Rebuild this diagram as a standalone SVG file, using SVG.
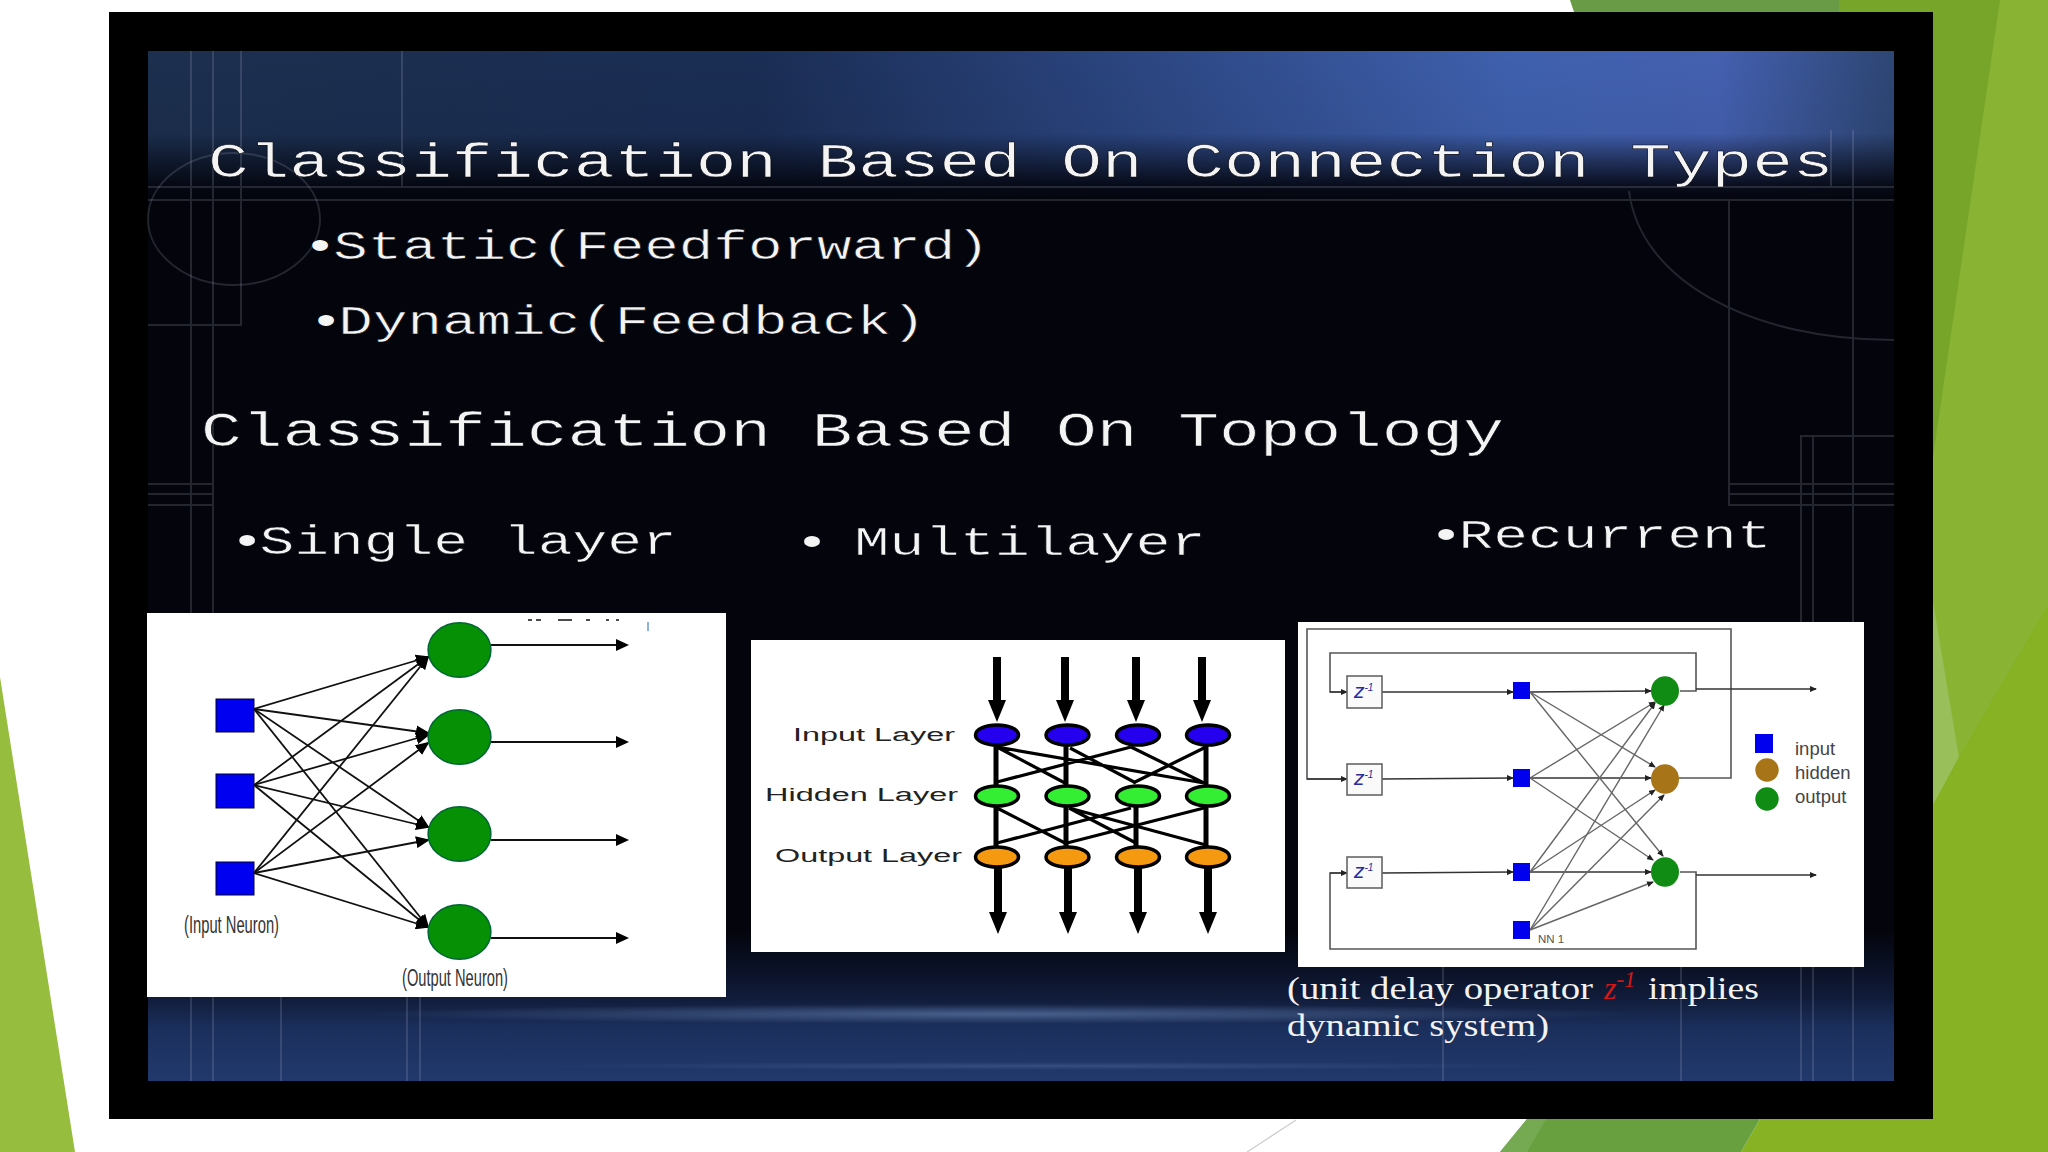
<svg xmlns="http://www.w3.org/2000/svg" width="2048" height="1152" viewBox="0 0 2048 1152">
<style>
.m{font-family:"Liberation Mono",monospace;fill:#f4f4f4;stroke:#05060f;stroke-width:.55}
.bu{stroke:none;font-family:"Liberation Sans",sans-serif}
.h{font-size:48px}.s{font-size:40px}
.f{fill:none;stroke:#b9bcd0;stroke-opacity:.18;stroke-width:2}
.l1{stroke:#111;stroke-width:1.8;fill:none;marker-end:url(#a1)}
.o1{stroke:#111;stroke-width:1.8;fill:none;marker-end:url(#a1b)}
.v2{stroke:#000;stroke-width:5;fill:none}
.d2{stroke:#000;stroke-width:3.2;fill:none}
.b2{stroke:#000;stroke-width:8;fill:none;marker-end:url(#a2)}
.g3{stroke:#555;stroke-width:1.6;fill:none}
.t3{stroke:#333;stroke-width:1.4;fill:none;marker-end:url(#a3)}
.d3{stroke:#666;stroke-width:1.4;fill:none;marker-end:url(#a3)}
.sq{fill:#0000f0;stroke:#003;stroke-width:1}
.gc{fill:#069006;stroke:#063;stroke-width:1.5}
.sq3{fill:#0000ee}
.gc3{fill:#108c14}
.nl{font-family:"Liberation Sans Narrow","Liberation Sans",sans-serif;font-size:23px;fill:#333}
.ll{font-family:"Liberation Sans",sans-serif;font-size:18px;fill:#222}
.lg{font-family:"Liberation Sans",sans-serif;font-size:18.5px;fill:#444}
.zb{fill:#fafafa;stroke:#666;stroke-width:1.6}
.zt{font-family:"Liberation Sans",sans-serif;font-style:italic;font-size:21px;fill:#2b2b9c}
.zs{font-size:10px}
.cap{font-family:"Liberation Serif",serif;font-size:32px;fill:#f2f2f2}
</style>
<defs>
<marker id="a1" markerUnits="userSpaceOnUse" markerWidth="14" markerHeight="12" refX="12" refY="6" orient="auto"><path d="M0,0L14,6L0,12z" fill="#000"/></marker>
<marker id="a1b" markerUnits="userSpaceOnUse" markerWidth="13" markerHeight="12" refX="11" refY="6" orient="auto"><path d="M0,0L13,6L0,12z" fill="#000"/></marker>
<marker id="a2" markerUnits="userSpaceOnUse" markerWidth="22" markerHeight="18" refX="0" refY="9" orient="auto"><path d="M0,0L22,9L0,18z" fill="#000"/></marker>
<marker id="a3" markerUnits="userSpaceOnUse" markerWidth="7" markerHeight="6" refX="6" refY="3" orient="auto"><path d="M0,0L7,3L0,6z" fill="#222"/></marker>
<linearGradient id="hz" x1="0" x2="1" y1="0" y2="0"><stop offset="0" stop-color="#1c2f4e"/><stop offset=".35" stop-color="#1a2d54"/><stop offset=".55" stop-color="#2a447e"/><stop offset=".78" stop-color="#3f60ae"/><stop offset=".9" stop-color="#4460b0"/><stop offset="1" stop-color="#2d4674"/></linearGradient>
<linearGradient id="fade" x1="0" x2="0" y1="0" y2="1"><stop offset="0" stop-color="#03040c" stop-opacity="0"/><stop offset=".55" stop-color="#03040c" stop-opacity=".05"/><stop offset=".75" stop-color="#03040c" stop-opacity=".55"/><stop offset=".9" stop-color="#03040c" stop-opacity=".9"/><stop offset="1" stop-color="#03040c"/></linearGradient>
<linearGradient id="bot" x1="0" x2="0" y1="0" y2="1"><stop offset="0" stop-color="#03040c"/><stop offset=".45" stop-color="#111c3a"/><stop offset=".65" stop-color="#1b2f5c"/><stop offset="1" stop-color="#21396c"/></linearGradient>
<radialGradient id="st"><stop offset="0" stop-color="#6f8fc0" stop-opacity=".55"/><stop offset="1" stop-color="#6f8fc0" stop-opacity="0"/></radialGradient>
</defs>

<g id="background">
<rect width="2048" height="1152" fill="#fff"/>
<polygon points="0,677 75,1152 0,1152" fill="#97bd3e"/>
<polygon points="1570,0 1839,0 1839,12 1574,12" fill="#699a45"/>
<rect x="1839" y="0" width="209" height="470" fill="#76a52a"/>
<rect x="1925" y="460" width="123" height="692" fill="#86b223"/>
<polygon points="2000,0 2048,0 2048,605 1959,757 1933,601 1933,457" fill="#88b333"/>
<polygon points="1933,601 1959,757 1933,805" fill="#98bf5a"/>
<polygon points="2048,605 2048,1152 1741,1152 1760,1119 1933,1119 1933,805" fill="#86b223"/>
<polygon points="1527,1119 1760,1119 1741,1152 1500,1152" fill="#69a03f"/>
<polygon points="1527,1119 1546,1119 1527,1152 1500,1152" fill="#76aa52"/>
<line x1="1296" y1="1120" x2="1247" y2="1152" stroke="#ccc" stroke-width="1.2"/>
<rect x="109" y="12" width="1824" height="1107" fill="#000"/>
<rect x="148" y="51" width="1746" height="1030" fill="#03040c"/>
<rect x="148" y="51" width="1746" height="150" fill="url(#hz)"/>
<rect x="148" y="51" width="1746" height="150" fill="url(#fade)"/>
<rect x="148" y="930" width="1746" height="151" fill="url(#bot)"/>
<ellipse cx="1000" cy="1014" rx="640" ry="10" fill="url(#st)"/>
<ellipse cx="1050" cy="1066" rx="520" ry="4" fill="url(#st)" opacity=".5"/>
<path class="f" d="M148,187H1894M148,200H1894M191,51V1081M213,51V1081M241,51V325H148M402,51V187M148,484H213M148,494H213M148,505H213M1831,130V187M1853,130V1081M1729,200V505H1894M1729,484H1894M1729,494H1894M1801,1081V436H1894M1813,436V1081M1629,191C1640,280 1750,340 1894,340"/>
<path class="f" d="M234,153C187,153 148,183 148,219C148,255 187,285 234,285C281,285 320,255 320,219C320,183 281,153 234,153Z"/>
<path class="f" d="M281,950V1081M407,950V1081M420,950V1081M1443,950V1081M1681,950V1081"/>
<rect x="147" y="613" width="579" height="384" fill="#fff"/>
<rect x="751" y="640" width="534" height="312" fill="#fff"/>
<rect x="1298" y="622" width="566" height="345" fill="#fff"/>
<path d="M528,620h4M536,620h5M558,620h14M586,620h4M606,620h3M616,620h3" stroke="#111" stroke-width="1.5" fill="none"/>
<path d="M648,622v9" stroke="#6a9ac8" stroke-width="1.5" fill="none"/>
</g>

<g id="connectors">
<line class="l1" x1="254" y1="709" x2="428" y2="657"/>
<line class="l1" x1="254" y1="709" x2="428" y2="733"/>
<line class="l1" x1="254" y1="709" x2="428" y2="827"/>
<line class="l1" x1="254" y1="709" x2="428" y2="927"/>
<line class="l1" x1="254" y1="785" x2="428" y2="657"/>
<line class="l1" x1="254" y1="785" x2="428" y2="735"/>
<line class="l1" x1="254" y1="785" x2="428" y2="827"/>
<line class="l1" x1="254" y1="785" x2="428" y2="927"/>
<line class="l1" x1="254" y1="873" x2="428" y2="657"/>
<line class="l1" x1="254" y1="873" x2="428" y2="743"/>
<line class="l1" x1="254" y1="873" x2="428" y2="840"/>
<line class="l1" x1="254" y1="873" x2="428" y2="927"/>
<line class="o1" x1="491" y1="645" x2="627" y2="645"/>
<line class="o1" x1="491" y1="742" x2="627" y2="742"/>
<line class="o1" x1="491" y1="840" x2="627" y2="840"/>
<line class="o1" x1="491" y1="938" x2="627" y2="938"/>

<line class="b2" x1="997" y1="657" x2="997" y2="700"/>
<line class="b2" x1="1065" y1="657" x2="1065" y2="700"/>
<line class="b2" x1="1136" y1="657" x2="1136" y2="700"/>
<line class="b2" x1="1202" y1="657" x2="1202" y2="700"/>
<path class="v2" d="M996,745V785M1066,745V785M1206,745V785M996,807V847M1066,807V847M1136,807V847M1206,807V847"/>
<path class="d2" d="M997,747L1065,783M997,747L1204,783M1070,748L1136,783M1131,747L997,782M1131,747L1204,783M1206,747L1133,783M997,808L1065,843M1069,808L1136,843M1069,808L1206,845M1131,808L997,843M1204,808L1067,843"/>
<line class="b2" x1="998" y1="868" x2="998" y2="912"/>
<line class="b2" x1="1068" y1="868" x2="1068" y2="912"/>
<line class="b2" x1="1138" y1="868" x2="1138" y2="912"/>
<line class="b2" x1="1208" y1="868" x2="1208" y2="912"/>

<path class="g3" d="M1679,778H1731V629H1307V779H1346"/>
<path class="g3" d="M1680,691H1696V653H1330V692H1346"/>
<path class="g3" d="M1680,872H1696V949H1330V873H1346"/>
<line class="t3" x1="1307" y1="779" x2="1347" y2="779"/>
<line class="t3" x1="1330" y1="692" x2="1347" y2="692"/>
<line class="t3" x1="1330" y1="873" x2="1347" y2="873"/>
<line class="t3" x1="1382" y1="692" x2="1513" y2="692"/>
<line class="t3" x1="1382" y1="779" x2="1513" y2="778"/>
<line class="t3" x1="1382" y1="873" x2="1513" y2="872"/>
<line class="t3" x1="1530" y1="692" x2="1651" y2="691"/>
<line class="t3" x1="1530" y1="778" x2="1651" y2="778"/>
<line class="t3" x1="1530" y1="872" x2="1651" y2="872"/>
<line class="d3" x1="1530" y1="692" x2="1655" y2="767"/>
<line class="d3" x1="1530" y1="692" x2="1663" y2="856"/>
<line class="d3" x1="1530" y1="778" x2="1655" y2="702"/>
<line class="d3" x1="1530" y1="778" x2="1653" y2="860"/>
<line class="d3" x1="1530" y1="872" x2="1655" y2="703"/>
<line class="d3" x1="1530" y1="872" x2="1655" y2="790"/>
<line class="d3" x1="1530" y1="930" x2="1664" y2="705"/>
<line class="d3" x1="1530" y1="930" x2="1664" y2="795"/>
<line class="d3" x1="1530" y1="930" x2="1653" y2="882"/>
<line class="t3" x1="1696" y1="689" x2="1816" y2="689"/>
<line class="t3" x1="1696" y1="875" x2="1816" y2="875"/>
</g>

<g id="titles">
<text class="m h" transform="translate(208,177) scale(1.411,1)">Classification Based On Connection Types</text>
<text class="m s" transform="translate(310,259) scale(1.44,1)"><tspan class="bu">•</tspan><tspan dx="2.1">Static(Feedforward)</tspan></text>
<text class="m s" transform="translate(316,334) scale(1.44,1)"><tspan class="bu">•</tspan><tspan dx="1.5">Dynamic(Feedback)</tspan></text>
<text class="m h" transform="translate(201,446) scale(1.414,1)">Classification Based On Topology</text>
<text class="m s" transform="translate(237,554) scale(1.45,1)"><tspan class="bu">•</tspan><tspan dx="1.45">Single layer</tspan></text>
<text class="m s" transform="translate(801.750,555) scale(1.465,1)"><tspan class="bu">• </tspan><tspan dx="10.7">Multilayer</tspan></text>
<text class="m s" transform="translate(1436,548) scale(1.45,1)"><tspan class="bu">•</tspan><tspan dx="1.45">Recurrent</tspan></text>
</g>

<g id="single-layer-net">
<rect id="sl-in1" class="sq" x="216" y="699" width="38" height="33"/>
<rect id="sl-in2" class="sq" x="216" y="774" width="38" height="34"/>
<rect id="sl-in3" class="sq" x="216" y="862" width="38" height="33"/>
<ellipse id="sl-out1" class="gc" cx="459.5" cy="650" rx="31.4" ry="27.3"/>
<ellipse id="sl-out2" class="gc" cx="459.5" cy="737" rx="31.4" ry="27.3"/>
<ellipse id="sl-out3" class="gc" cx="459.5" cy="834" rx="31.4" ry="27.3"/>
<ellipse id="sl-out4" class="gc" cx="459.5" cy="932" rx="31.4" ry="27.3"/>
<text class="nl" x="184" y="933" textLength="95" lengthAdjust="spacingAndGlyphs">(Input Neuron)</text>
<text class="nl" x="402" y="986" textLength="106" lengthAdjust="spacingAndGlyphs">(Output Neuron)</text>
</g>

<g id="multilayer-net" stroke="#000" stroke-width="3.5">
<ellipse cx="997" cy="735" rx="21.5" ry="10" fill="#2400ee"/>
<ellipse cx="1067.500" cy="735" rx="21.5" ry="10" fill="#2400ee"/>
<ellipse cx="1138" cy="735" rx="21.5" ry="10" fill="#2400ee"/>
<ellipse cx="1208" cy="735" rx="21.5" ry="10" fill="#2400ee"/>
<ellipse cx="997" cy="796" rx="21.5" ry="10" fill="#33ee33"/>
<ellipse cx="1067.500" cy="796" rx="21.5" ry="10" fill="#33ee33"/>
<ellipse cx="1138" cy="796" rx="21.5" ry="10" fill="#33ee33"/>
<ellipse cx="1208" cy="796" rx="21.5" ry="10" fill="#33ee33"/>
<ellipse cx="997" cy="857" rx="21.5" ry="10" fill="#f59a10"/>
<ellipse cx="1067.500" cy="857" rx="21.5" ry="10" fill="#f59a10"/>
<ellipse cx="1138" cy="857" rx="21.5" ry="10" fill="#f59a10"/>
<ellipse cx="1208" cy="857" rx="21.5" ry="10" fill="#f59a10"/>
<g stroke="none">
<text class="ll" x="793" y="741" textLength="162" lengthAdjust="spacingAndGlyphs">Input Layer</text>
<text class="ll" x="765" y="801" textLength="193" lengthAdjust="spacingAndGlyphs">Hidden Layer</text>
<text class="ll" x="775" y="862" textLength="187" lengthAdjust="spacingAndGlyphs">Output Layer</text>
</g>
</g>

<g id="recurrent-net">
<rect class="zb" x="1347" y="676" width="35" height="32"/>
<rect class="zb" x="1347" y="764" width="35" height="31"/>
<rect class="zb" x="1347" y="857" width="35" height="31"/>
<text class="zt" x="1354" y="698">z<tspan class="zs" dy="-7">-1</tspan></text>
<text class="zt" x="1354" y="785">z<tspan class="zs" dy="-7">-1</tspan></text>
<text class="zt" x="1354" y="878">z<tspan class="zs" dy="-7">-1</tspan></text>
<rect class="sq3" x="1513" y="682" width="17" height="17"/>
<rect class="sq3" x="1513" y="769" width="17" height="18"/>
<rect class="sq3" x="1513" y="863" width="17" height="18"/>
<rect class="sq3" x="1513" y="921" width="17" height="18"/>
<ellipse class="gc3" cx="1665" cy="691" rx="14" ry="14.700"/>
<ellipse cx="1665" cy="779" rx="14" ry="14.700" fill="#a87418"/>
<ellipse class="gc3" cx="1665" cy="872" rx="14" ry="14.700"/>
<text x="1538" y="943" font-family="Liberation Sans, sans-serif" font-size="11.500" fill="#555">NN 1</text>
<rect class="sq3" x="1755" y="734" width="18" height="19"/>
<ellipse cx="1767" cy="770" rx="11.700" ry="11.700" fill="#a87418"/>
<ellipse class="gc3" cx="1767" cy="799" rx="11.700" ry="11.700"/>
<text class="lg" x="1795" y="755">input</text>
<text class="lg" x="1795" y="779">hidden</text>
<text class="lg" x="1795" y="803">output</text>
</g>

<g id="caption">
<text class="cap" x="1287" y="999" textLength="306" lengthAdjust="spacingAndGlyphs">(unit delay operator</text>
<text class="cap" x="1604" y="999" font-style="italic" style="fill:#d01818">z<tspan font-size="23" dy="-12">-1</tspan></text>
<text class="cap" x="1648" y="999" textLength="111" lengthAdjust="spacingAndGlyphs">implies</text>
<text class="cap" x="1287" y="1036" textLength="262" lengthAdjust="spacingAndGlyphs">dynamic system)</text>
</g>
</svg>
